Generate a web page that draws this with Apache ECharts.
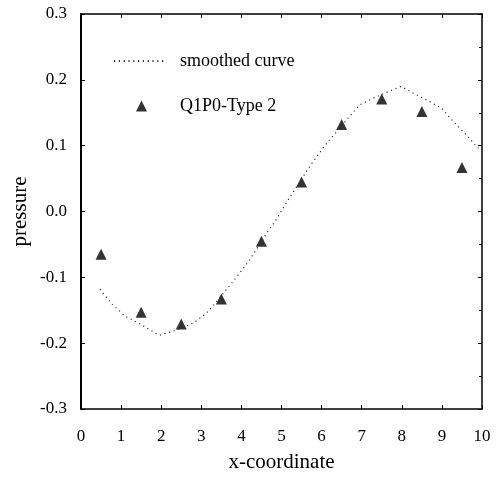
<!DOCTYPE html>
<html>
<head>
<meta charset="utf-8">
<script src="https://cdn.jsdelivr.net/npm/echarts@6/dist/echarts.min.js"></script>
<style>
  html, body { margin: 0; padding: 0; background: #fff; }
  #chart { width: 502px; height: 482px; }
</style>
</head>
<body>
<div id="chart"></div>
<script>
  // smoothed curve
  const curveX = [0.47, 0.78, 1.1, 1.45, 1.78, 1.95, 2.4, 2.81, 3.1, 3.27, 3.81, 4.2, 4.62, 4.87,
    5.17, 5.72, 6.08, 6.65, 6.95, 7.28, 7.62, 7.98, 8.28, 8.63, 8.99, 9.28, 9.58, 9.91]
  const curveY = [-0.118, -0.141, -0.159, -0.170, -0.182, -0.188, -0.180, -0.169, -0.156, -0.145, -0.105, -0.074, -0.034, -0.012,
    0.018, 0.070, 0.100, 0.141, 0.162, 0.172, 0.181, 0.190, 0.180, 0.169, 0.157, 0.137, 0.118, 0.096]

  // Q1P0-Type 2 points
  const pointX = [0.5, 1.5, 2.5, 3.5, 4.5, 5.5, 6.5, 7.5, 8.5, 9.5]
  const pointY = [-0.065, -0.153, -0.171, -0.133, -0.045, 0.045, 0.132, 0.171, 0.152, 0.067]

  const serif = '"Liberation Serif", "DejaVu Serif", serif'
  const tickFont = { fontFamily: serif, fontSize: 17, color: '#000' }

  const zip = (xs, ys) => xs.map((x, i) => [x, ys[i]])

  const boxLine = (w) => ({ show: true, onZero: false, lineStyle: { color: '#000', width: w } })
  const ticks = { show: true, inside: true, length: 4, lineStyle: { color: '#000' } }

  const chart = echarts.init(document.getElementById('chart'))
  chart.setOption({
    animation: false,
    backgroundColor: '#fff',
    grid: { left: 81, right: 20, top: 14, bottom: 73 },
    legend: [{
      data: [{ name: 'smoothed curve', itemStyle: { opacity: 0 } }],
      left: 113, top: 52, padding: 0,
      itemWidth: 50, itemHeight: 14,
      textStyle: { fontFamily: serif, fontSize: 18, color: '#000', padding: [0, 0, 0, 11] }
    }, {
      data: ['Q1P0-Type 2'],
      left: 136, top: 97, padding: 0,
      itemWidth: 11, itemHeight: 11,
      textStyle: { fontFamily: serif, fontSize: 18, color: '#000', padding: [0, 0, 0, 28] }
    }],
    xAxis: [{
      type: 'value', min: 0, max: 10, interval: 1,
      name: 'x-coordinate', nameLocation: 'middle', nameGap: 43,
      nameTextStyle: { fontFamily: serif, fontSize: 21, color: '#000' },
      axisLine: boxLine(1.5), axisTick: ticks,
      axisLabel: Object.assign({ margin: 19 }, tickFont),
      splitLine: { show: false }
    }, {
      type: 'value', position: 'top', min: 0, max: 10, interval: 1,
      axisLine: boxLine(1.5), axisTick: ticks,
      axisLabel: { show: false }, splitLine: { show: false }
    }],
    yAxis: [{
      type: 'value', min: -0.3, max: 0.3, interval: 0.1,
      name: 'pressure', nameLocation: 'middle', nameGap: 50, nameMoveOverlap: false,
      nameTextStyle: { fontFamily: serif, fontSize: 21, color: '#000' },
      axisLine: boxLine(2), axisTick: ticks,
      axisLabel: Object.assign({ margin: 14, formatter: v => v.toFixed(1) }, tickFont),
      splitLine: { show: false }
    }, {
      type: 'value', position: 'right', min: -0.3, max: 0.3, interval: 0.1,
      axisLine: boxLine(1.5), axisTick: ticks,
      minorTick: { show: true, splitNumber: 2, length: 3, lineStyle: { color: '#000' } },
      axisLabel: { show: false }, splitLine: { show: false }
    }],
    series: [{
      name: 'smoothed curve',
      type: 'line',
      data: zip(curveX, curveY),
      symbol: 'none',
      lineStyle: { color: '#333', width: 1.2, type: [1.2, 3.6] },
      itemStyle: { color: '#333' }
    }, {
      name: 'Q1P0-Type 2',
      type: 'scatter',
      data: zip(pointX, pointY),
      symbol: 'triangle',
      symbolSize: [11, 11],
      itemStyle: { color: '#000' }
    }]
  })
</script>
</body>
</html>
